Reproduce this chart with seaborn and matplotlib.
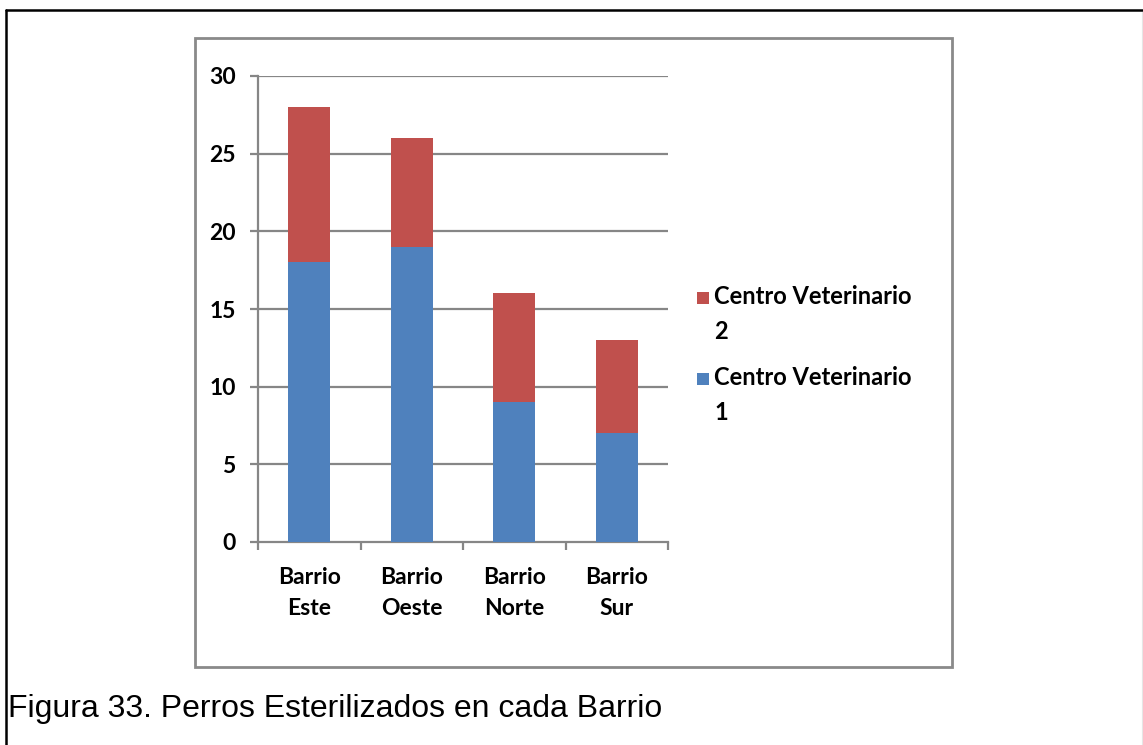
import matplotlib
matplotlib.use("Agg")
import matplotlib.pyplot as plt
import seaborn as sns
import pandas as pd
import numpy as np
from matplotlib.patches import Rectangle
from matplotlib.lines import Line2D

categories = ["Barrio\nEste", "Barrio\nOeste", "Barrio\nNorte", "Barrio\nSur"]
centro1 = [18, 19, 9, 7]
centro2 = [10, 7, 7, 6]
series_labels = ["Centro Veterinario\n2", "Centro Veterinario\n1"]
y_ticks = [0, 5, 10, 15, 20, 25, 30]
caption = "Figura 33. Perros Esterilizados en cada Barrio"

BLUE = "#4F81BD"
RED = "#C0504D"
GRAY = "#868686"

sns.set_theme(style="white")
plt.rcParams["font.family"] = ["Lato", "DejaVu Sans"]

df = pd.DataFrame({
    "cat": categories,
    "c1": centro1,
    "total": np.array(centro1) + np.array(centro2),
})

W, H = 1143, 745
fig = plt.figure(figsize=(W / 100, H / 100), dpi=100)
fig.patch.set_facecolor("white")

# outer frame (top and left lines)
fig.add_artist(Line2D([6 / W, 1.0], [1 - 10 / H, 1 - 10 / H], color="black", lw=1.8))
fig.add_artist(Line2D([6 / W, 6 / W], [0, 1 - 10 / H], color="black", lw=1.8))
fig.add_artist(Line2D([1141.5 / W, 1141.5 / W], [0, 1 - 12 / H], color="#E6E6E6", lw=0.8))

# chart box
fig.add_artist(Rectangle((195 / W, 1 - 667 / H), (952 - 195) / W, (667 - 38) / H,
                         transform=fig.transFigure, fill=False, edgecolor="#8A8A8A", lw=2.0))

ax = fig.add_axes([258 / W, 1 - 542 / H, (668 - 258) / W, (542 - 76) / H])
ax.set_facecolor("none")

sns.barplot(data=df, x="cat", y="total", color=RED, saturation=1, width=0.41, ax=ax,
            zorder=3, linewidth=0, edgecolor="none")
sns.barplot(data=df, x="cat", y="c1", color=BLUE, saturation=1, width=0.41, ax=ax,
            zorder=3, linewidth=0, edgecolor="none")

ax.set_ylim(0, 30)
ax.set_xlim(-0.5, len(categories) - 0.5)
ax.set_yticks(y_ticks)
ax.set_yticklabels([str(v) for v in y_ticks], fontweight="bold")
for v in y_ticks[1:]:
    ax.axhline(v, color=GRAY, lw=1.6, zorder=1)

ax.set_xlabel("")
ax.set_ylabel("")
for s in ["top", "right"]:
    ax.spines[s].set_visible(False)
for s in ["left", "bottom"]:
    ax.spines[s].set_visible(True)
    ax.spines[s].set_color(GRAY)
    ax.spines[s].set_linewidth(1.6)

ax.tick_params(axis="y", which="major", length=6, width=1.6, color=GRAY, pad=10,
               labelsize=16.5, labelcolor="black", left=True)
ax.set_xticks(range(len(categories)))
ax.set_xticklabels(categories, linespacing=1.6, fontweight="bold")
ax.set_xticks(np.arange(-0.5, len(categories), 1.0), minor=True)
ax.tick_params(axis="x", which="major", length=0, pad=18, labelsize=16.5, labelcolor="black")
ax.tick_params(axis="x", which="minor", length=6, width=1.6, color=GRAY, bottom=True)
ax.grid(False)

# legend
leg_colors = [RED, BLUE]
leg_y = [298, 379]
for lab, col, yy in zip(series_labels, leg_colors, leg_y):
    fig.add_artist(Rectangle((697 / W, 1 - (yy + 6) / H), 12 / W, 12 / H,
                             transform=fig.transFigure, facecolor=col, edgecolor="none"))
    fig.text(714 / W, 1 - (yy - 13) / H, lab, fontsize=17, va="top", ha="left",
             linespacing=1.65, color="black", fontweight="bold")

fig.text(8 / W, 1 - 717 / H, caption, fontsize=23, va="baseline", ha="left",
         family=["Liberation Sans", "DejaVu Sans"], color="black")

fig.savefig("out.png", dpi=100, facecolor="white")
